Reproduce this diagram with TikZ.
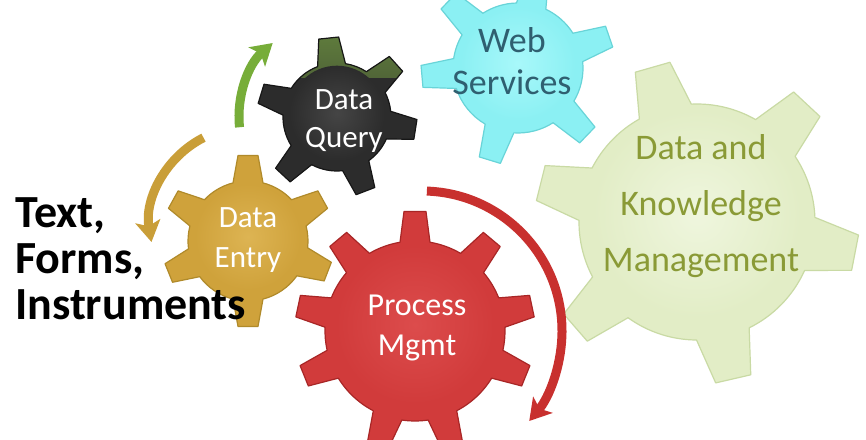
\documentclass[tikz,border=0pt]{standalone}
\usepackage{fontspec}
\setmainfont{Carlito}
\usetikzlibrary{arrows.meta,calc}

% gear colour sets: base, highlight, rim
\definecolor{kmbase}{HTML}{E2EDC6}\definecolor{kmhi}{HTML}{EFF6DE}\definecolor{kmrim}{HTML}{C9DAA4}
\definecolor{wsbase}{HTML}{8BF0F3}\definecolor{wshi}{HTML}{A8F8FA}\definecolor{wsrim}{HTML}{68D4D8}
\definecolor{debase}{HTML}{CFA23B}\definecolor{dehi}{HTML}{DDB453}\definecolor{derim}{HTML}{B08A2A}
\definecolor{dqbase}{HTML}{2C2C2C}\definecolor{dqhi}{HTML}{454545}\definecolor{dqrim}{HTML}{161616}
\definecolor{dqtop}{HTML}{5E7A3C}
\definecolor{pmbase}{HTML}{D13B3B}\definecolor{pmhi}{HTML}{DC4C4C}\definecolor{pmrim}{HTML}{A82626}
% arrows and text
\definecolor{arrgreen}{HTML}{77AD39}
\definecolor{arrgold}{HTML}{C99E38}
\definecolor{arrred}{HTML}{C8302E}
\definecolor{wstext}{HTML}{2F5F70}
\definecolor{kmtext}{HTML}{8A9A36}

\tikzset{gear extra/.style={}}

% #1 colour prefix, #2 centre, #3 body radius, #4 tip radius,
% #5 half base width, #6 half tip width, #7 first tooth angle, #8 further angles (ascending)
\newcommand{\drawgear}[8]{%
  \pgfmathsetmacro\gHB{asin(#5/#3)}%
  \pgfmathsetmacro\gHT{asin(#6/#4)}%
  \path[shift={#2}, fill=#1base, draw=#1rim, line width=1.2pt, line join=round, gear extra]
    ({#7+\gHB}:#3pt)
    \foreach \ga [remember=\ga as \gp (initially #7)] in {#8,#7+360} {
      arc[start angle={\gp+\gHB}, end angle={\ga-\gHB}, radius=#3pt]
      -- ({\ga-\gHT}:#4pt) -- ({\ga+\gHT}:#4pt) -- ({\ga+\gHB}:#3pt)
    } -- cycle;
  \shade[shift={#2}, inner color=#1hi, outer color=#1base]
    (0,{0.07*#3}) circle[radius={0.88*#3pt}];
}

\begin{document}
\begin{tikzpicture}[x=1pt, y=1pt,
  gearlabel/.style={anchor=base, inner sep=0pt},
  curvedarrow/.style={line width=9pt, line cap=butt,
    -{Stealth[length=21pt, width=25pt, inset=5pt]}}]
\useasboundingbox (0,0) rectangle (866,439);
\fill[white] (0,0) rectangle (866,439);

% gear centres
\coordinate (kmc) at (697,217);
\coordinate (wsc) at (518,371);
\coordinate (dec) at (248,198);
\coordinate (dqc) at (337,322);
\coordinate (pmc) at (415,108);

% gears, back to front
\drawgear{km}{(kmc)}{118}{162}{27}{18}{-139}{-77,-11,47,106,166}
\drawgear{ws}{(wsc)}{65}{97}{15}{11}{-107}{-44,19,78,136,185}
\drawgear{de}{(dec)}{60}{86}{15}{10}{-158}{-90,-21,29,90,151}
\begin{scope}[gear extra/.style={path picture={
    \shade[top color=dqtop, bottom color=dqbase]
      (path picture bounding box.north west) rectangle
      ($(path picture bounding box.north east)+(0,-40pt)$);}}]
\drawgear{dq}{(dqc)}{54}{80}{14}{10}{-133}{-69,-9,42,96,163}
\end{scope}
\drawgear{pm}{(pmc)}{90}{120}{15}{11}{-158}{-108,-72,-22,12,50,90,130,168}

% rotation arrows around the gears
\coordinate (ga) at ($(dqc)+(186:98pt)$);
\draw[curvedarrow, arrgreen] (ga) arc[start angle=186, end angle=131, radius=98pt];
\coordinate (oc) at (248,214);
\coordinate (oa) at ($(oc)+(117:98pt)$);
\draw[curvedarrow, arrgold] (oa) arc[start angle=117, end angle=190, radius=98pt];
\coordinate (rc) at (422,108);
\coordinate (ra) at ($(rc)+(88:140pt)$);
\draw[curvedarrow, arrred] (ra) arc[start angle=88, end angle=-40, radius=140pt];

% gear labels
\node[gearlabel, text=white, font=\fontsize{31}{38}\selectfont] (dq) at (344,329)
  {\begin{tabular}[t]{@{}c@{}}Data\\Query\end{tabular}};
\node[gearlabel, text=white, font=\fontsize{31}{40}\selectfont] (de) at (248,211)
  {\begin{tabular}[t]{@{}c@{}}Data\\Entry\end{tabular}};
\node[gearlabel, text=white, font=\fontsize{32}{40}\selectfont] (pm) at (417,124)
  {\begin{tabular}[t]{@{}c@{}}Process\\Mgmt\end{tabular}};
\node[gearlabel, text=wstext, font=\fontsize{36}{42}\selectfont] (ws) at (512,386)
  {\begin{tabular}[t]{@{}c@{}}Web\\Services\end{tabular}};
\node[gearlabel, text=kmtext, font=\fontsize{36}{56}\selectfont] (km) at (701,279)
  {\begin{tabular}[t]{@{}c@{}}Data and\\Knowledge\\Management\end{tabular}};

% side caption
\node[anchor=base west, inner sep=0pt, font=\bfseries\fontsize{46}{46}\selectfont] (src) at (15,211)
  {\begin{tabular}[t]{@{}l@{}}Text,\\Forms,\\Instruments\end{tabular}};
\end{tikzpicture}
\end{document}
